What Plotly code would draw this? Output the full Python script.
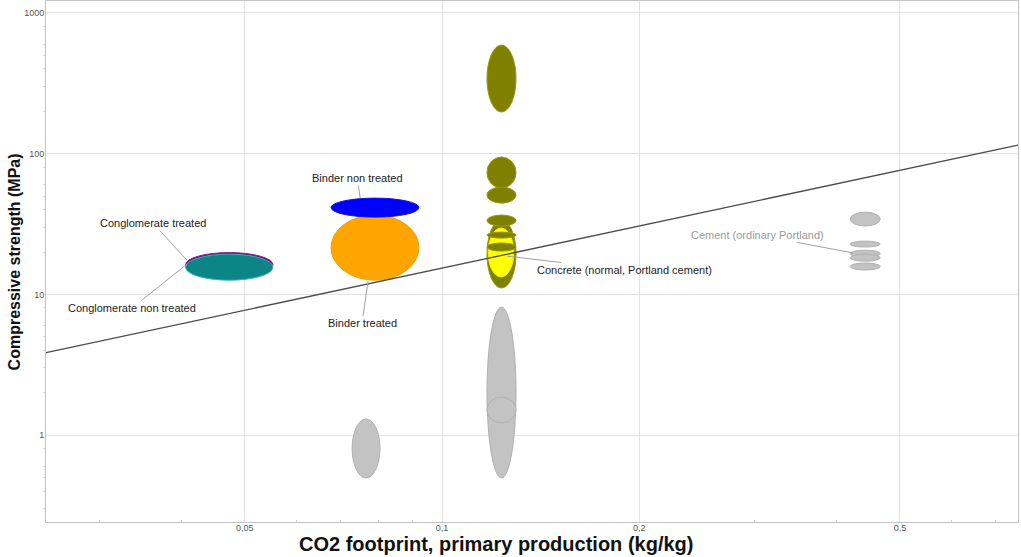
import numpy as np
import plotly.graph_objects as go

# ---- Data -----------------------------------------------------------------
# Bubble extents: CO2 footprint range (kg/kg) and compressive strength range (MPa),
# listed in drawing order (later bubbles sit on top).
BUBBLE_GROUP = [
    "cement", "cement", "cement", "cement", "cement",
    "concrete_low", "concrete_low", "concrete_low",
    "congl_treated", "congl_non_treated",
    "binder_treated", "binder_non_treated",
    "concrete", "concrete_normal",
    "concrete", "concrete", "concrete", "concrete", "concrete", "concrete",
]
CO2_LOW = [
    0.4197, 0.4197, 0.4197, 0.4197, 0.4197,
    0.1171, 0.1171, 0.0729,
    0.0406, 0.0406,
    0.0677, 0.0677,
    0.1171, 0.1176,
    0.1171, 0.1171, 0.1171, 0.1171, 0.1171, 0.1171,
]
CO2_HIGH = [
    0.4664, 0.4664, 0.4664, 0.4664, 0.4664,
    0.1297, 0.1297, 0.0804,
    0.0552, 0.0552,
    0.0922, 0.0922,
    0.1297, 0.1287,
    0.1297, 0.1297, 0.1297, 0.1297, 0.1297, 0.1297,
]
STRENGTH_LOW = [
    30.6, 21.7, 18.4, 17.2, 14.9,
    0.495, 1.22, 0.495,
    13.3, 12.6,
    12.6, 35.4,
    11.1, 13.3,
    197.6, 56.9, 44.5, 30.6, 25.1, 20.3,
]
STRENGTH_HIGH = [
    38.4, 23.9, 20.6, 19.3, 16.7,
    8.12, 1.86, 1.30,
    19.8, 19.3,
    36.6, 48.3,
    33.7, 29.6,
    591.0, 94.6, 57.9, 36.6, 27.7, 23.2,
]

# Trend line (power law fitted across the materials)
TREND_X = [0.02486, 0.757]
TREND_Y = [3.85, 115.0]

# Labelled materials: text and the point each leader line ends on
LABEL_TEXT = [
    "Conglomerate treated",
    "Conglomerate non treated",
    "Binder non treated",
    "Binder treated",
    "Concrete (normal, Portland cement)",
    "Cement (ordinary Portland)",
]
LABEL_X = [0.0408, 0.0408, 0.0750, 0.0771, 0.1257, 0.424]
LABEL_Y = [17.5, 16.4, 48.3, 12.4, 18.7, 19.7]

X_TICKS = [0.05, 0.1, 0.2, 0.5]
X_TICK_TEXT = ["0,05", "0,1", "0,2", "0,5"]
Y_TICKS = [1, 10, 100, 1000]
Y_TICK_TEXT = ["1", "10", "100", "1000"]

# ---- Styles -----------------------------------------------------------------
GROUP_STYLE = {
    "cement": ("#c3c3c3", "#b0b0b0"),
    "concrete_low": ("#c3c3c3", "#b0b0b0"),
    "congl_treated": ("#800080", "#8a1a8a"),
    "congl_non_treated": ("#0b8585", "#35b8b8"),
    "binder_treated": ("#ffa500", "#f0a000"),
    "binder_non_treated": ("#0000ff", "#1010ee"),
    "concrete": ("#808000", "#9a9a10"),
    "concrete_normal": ("#ffff00", "#f2f200"),
}
# Text offsets (px) of each label relative to the end of its leader line
LABEL_DX = [-34, -55, -3, -6, 117, -96]
LABEL_DY = [-37, 44, -20, 42, 14, -18]
LABEL_COLOR = ["#222222", "#222222", "#222222", "#222222", "#222222", "#9a9a9a"]

FONT = "Liberation Sans, Arial, sans-serif"

fig = go.Figure()

for g, x0, x1, y0, y1 in zip(BUBBLE_GROUP, CO2_LOW, CO2_HIGH, STRENGTH_LOW, STRENGTH_HIGH):
    fill, edge = GROUP_STYLE[g]
    fig.add_shape(
        type="circle", xref="x", yref="y",
        x0=x0, x1=x1, y0=y0, y1=y1,
        fillcolor=fill, line=dict(color=edge, width=1),
        layer="between",
    )

fig.add_trace(go.Scatter(
    x=TREND_X, y=TREND_Y, mode="lines",
    line=dict(color="#4a4a4a", width=1.3),
    hoverinfo="skip", showlegend=False,
))

for text, x, y, dx, dy, col in zip(LABEL_TEXT, LABEL_X, LABEL_Y, LABEL_DX, LABEL_DY, LABEL_COLOR):
    fig.add_annotation(
        x=np.log10(x), y=np.log10(y), xref="x", yref="y",
        text=text, showarrow=True, arrowhead=0, arrowwidth=1,
        arrowcolor="#a0a0a0", ax=dx, ay=dy, standoff=0,
        font=dict(family=FONT, size=11, color=col),
    )

# Axis titles
fig.add_annotation(
    text="<b>CO2 footprint, primary production (kg/kg)</b>",
    xref="paper", yref="paper", x=0.463, y=-0.043,
    xanchor="center", yanchor="middle", showarrow=False,
    font=dict(family=FONT, size=20, color="#111111"),
)
fig.add_annotation(
    text="<b>Compressive strength (MPa)</b>",
    xref="paper", yref="paper", x=-0.032, y=0.5,
    xanchor="center", yanchor="middle", showarrow=False, textangle=-90,
    font=dict(family=FONT, size=16, color="#111111"),
)

axis_common = dict(
    type="log", showgrid=True, gridcolor="#e2e2e2", gridwidth=1,
    showline=True, linecolor="#c4c4c4", linewidth=1, mirror=True,
    ticks="",
    tickfont=dict(family=FONT, size=9, color="#555555"),
    zeroline=False,
)

fig.update_xaxes(
    **axis_common,
    range=[np.log10(0.02486), np.log10(0.757)],
    tickvals=X_TICKS, ticktext=X_TICK_TEXT,
    ticklabelstandoff=-3,
    minor=dict(tickvals=[0.03, 0.04, 0.06, 0.07, 0.08, 0.09, 0.3, 0.4, 0.6, 0.7],
               ticks="inside", ticklen=2, tickcolor="#d6d6d6", showgrid=False),
)
fig.update_yaxes(
    **axis_common,
    range=[-0.618, 3.085],
    tickvals=Y_TICKS, ticktext=Y_TICK_TEXT,
    ticklabelstandoff=-1,
    minor=dict(tickvals=[0.3, 0.4, 0.5, 0.6, 0.8, 2, 3, 4, 5, 6, 8, 20, 30, 40, 50, 60, 80,
                         200, 300, 400, 500, 600, 800],
               ticks="outside", ticklen=2, tickcolor="#d6d6d6", showgrid=False),
)

fig.update_layout(
    width=1021, height=557,
    margin=dict(l=46, r=3, t=1, b=35),
    paper_bgcolor="white", plot_bgcolor="white",
    showlegend=False, hovermode=False,
    font=dict(family=FONT),
)

fig.write_html("out.html", config={"displayModeBar": False})
